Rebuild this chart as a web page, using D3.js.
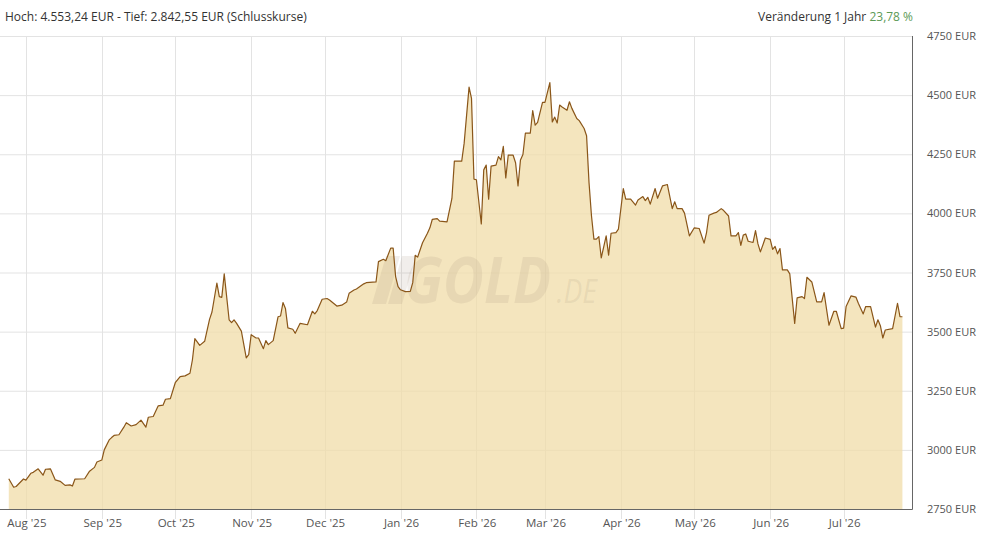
<!DOCTYPE html>
<html>
<head>
<meta charset="utf-8">
<style type="text/css">
body { margin: 0; background: #fff; }
text { font-family: "Open Sans", sans-serif; }
</style>
</head>
<body>
<script src="https://d3js.org/d3.v7.min.js"></script>
<script>
// daily closing prices (EUR)
var dates = [
  "2025-07-25","2025-07-27","2025-07-28","2025-07-31","2025-08-01","2025-08-03","2025-08-04","2025-08-06","2025-08-08","2025-08-09",
  "2025-08-11","2025-08-13","2025-08-15","2025-08-17","2025-08-19","2025-08-20","2025-08-21","2025-08-25","2025-08-27","2025-08-29",
  "2025-08-30","2025-09-01","2025-09-02","2025-09-04","2025-09-05","2025-09-06","2025-09-08","2025-09-10","2025-09-11","2025-09-13",
  "2025-09-15","2025-09-17","2025-09-19","2025-09-20","2025-09-22","2025-09-24","2025-09-26","2025-09-27","2025-09-29","2025-10-01",
  "2025-10-03","2025-10-05","2025-10-07","2025-10-08","2025-10-09","2025-10-11","2025-10-13","2025-10-15","2025-10-16","2025-10-18",
  "2025-10-19","2025-10-20","2025-10-21","2025-10-23","2025-10-24","2025-10-25","2025-10-26","2025-10-28","2025-10-30","2025-10-31",
  "2025-11-01","2025-11-03","2025-11-04","2025-11-06","2025-11-07","2025-11-08","2025-11-10","2025-11-12","2025-11-13","2025-11-14",
  "2025-11-15","2025-11-16","2025-11-18","2025-11-19","2025-11-21","2025-11-24","2025-11-26","2025-11-27","2025-11-28","2025-11-30",
  "2025-12-02","2025-12-03","2025-12-06","2025-12-08","2025-12-10","2025-12-11","2025-12-13","2025-12-14","2025-12-17","2025-12-18",
  "2025-12-22","2025-12-23","2025-12-25","2025-12-26","2025-12-28","2025-12-29","2025-12-30","2025-12-31","2026-01-01","2026-01-03",
  "2026-01-05","2026-01-06","2026-01-07","2026-01-08","2026-01-10","2026-01-12","2026-01-13","2026-01-14","2026-01-16","2026-01-17",
  "2026-01-20","2026-01-22","2026-01-23","2026-01-26","2026-01-27","2026-01-29","2026-01-30","2026-01-31","2026-02-01","2026-02-03",
  "2026-02-04","2026-02-05","2026-02-06","2026-02-07","2026-02-09","2026-02-10","2026-02-11","2026-02-12","2026-02-13","2026-02-14",
  "2026-02-16","2026-02-17","2026-02-18","2026-02-19","2026-02-20","2026-02-21","2026-02-23","2026-02-24","2026-02-25","2026-02-26",
  "2026-02-28","2026-03-01","2026-03-03","2026-03-04","2026-03-05","2026-03-06","2026-03-07","2026-03-08","2026-03-10","2026-03-11",
  "2026-03-12","2026-03-14","2026-03-15","2026-03-17","2026-03-18","2026-03-19","2026-03-20","2026-03-21","2026-03-22","2026-03-23",
  "2026-03-24","2026-03-26","2026-03-27","2026-03-28","2026-03-30","2026-03-31","2026-04-02","2026-04-03","2026-04-05","2026-04-07",
  "2026-04-08","2026-04-10","2026-04-11","2026-04-12","2026-04-13","2026-04-15","2026-04-16","2026-04-18","2026-04-20","2026-04-22",
  "2026-04-23","2026-04-24","2026-04-26","2026-04-27","2026-04-29","2026-05-01","2026-05-03","2026-05-05","2026-05-06","2026-05-07",
  "2026-05-09","2026-05-10","2026-05-12","2026-05-13","2026-05-15","2026-05-16","2026-05-18","2026-05-19","2026-05-20","2026-05-21",
  "2026-05-22","2026-05-23","2026-05-25","2026-05-26","2026-05-27","2026-05-28","2026-05-30","2026-06-01","2026-06-02","2026-06-03",
  "2026-06-04","2026-06-05","2026-06-06","2026-06-08","2026-06-09","2026-06-11","2026-06-12","2026-06-14","2026-06-15","2026-06-16",
  "2026-06-18","2026-06-20","2026-06-22","2026-06-23","2026-06-25","2026-06-27","2026-06-28","2026-06-30","2026-07-01","2026-07-02",
  "2026-07-04","2026-07-06","2026-07-07","2026-07-09","2026-07-10","2026-07-12","2026-07-14","2026-07-15","2026-07-16","2026-07-17",
  "2026-07-18","2026-07-21","2026-07-23","2026-07-24","2026-07-25"
];
var prices = [
  2878,2842,2845,2877,2872,2901,2905,2920,2893,2918,
  2920,2873,2867,2850,2852,2847,2876,2878,2910,2926,
  2949,2957,3000,3042,3052,3061,3064,3096,3115,3101,
  3107,3126,3096,3138,3141,3186,3189,3214,3217,3284,
  3310,3313,3324,3380,3470,3442,3459,3552,3583,3705,
  3648,3645,3744,3550,3538,3550,3536,3502,3389,3403,
  3487,3473,3473,3428,3462,3445,3462,3563,3566,3623,
  3598,3516,3510,3493,3535,3529,3586,3575,3589,3637,
  3640,3634,3608,3612,3625,3662,3676,3680,3702,3707,
  3710,3796,3806,3800,3853,3853,3733,3690,3677,3669,
  3670,3707,3823,3815,3876,3916,3939,3975,3978,3967,
  3964,4063,4221,4221,4297,4534,4486,4145,4142,3955,
  4184,4204,4060,4200,4204,4240,4226,4283,4150,4246,
  4246,4214,4116,4226,4249,4339,4339,4435,4373,4385,
  4469,4469,4553,4387,4407,4382,4458,4450,4436,4472,
  4444,4401,4392,4359,4328,4130,3990,3891,3891,3902,
  3812,3905,3823,3916,3919,3933,4105,4060,4060,4035,
  4057,4071,4054,4068,4039,4105,4064,4116,4122,4020,
  4049,4020,4020,4001,3905,3939,3936,3874,3919,3992,
  4001,4004,4020,4012,3989,3905,3905,3919,3865,3908,
  3913,3882,3877,3927,3871,3837,3896,3890,3848,3860,
  3829,3851,3761,3761,3744,3535,3643,3648,3640,3730,
  3710,3626,3626,3665,3527,3586,3586,3513,3515,3606,
  3651,3646,3620,3575,3606,3606,3519,3550,3525,3473,
  3507,3513,3620,3563,3563
];
var yTicks = [2750, 3000, 3250, 3500, 3750, 4000, 4250, 4500, 4750];
var monthNames = ["Jan","Feb","Mar","Apr","May","Jun","Jul","Aug","Sep","Oct","Nov","Dec"];
var headerLeft = "Hoch: 4.553,24 EUR - Tief: 2.842,55 EUR (Schlusskurse)";
var headerRight = "Veränderung 1 Jahr ";
var changeText = "23,78 %";

var W = 984, H = 541;
var plot = {left: 0, right: 912, top: 36, bottom: 509};

var parse = d3.timeParse("%Y-%m-%d");
var data = dates.map(function(d, i){ return {date: parse(d), value: prices[i]}; });

var svg = d3.select("body").append("svg")
    .attr("width", W).attr("height", H);

var x = d3.scaleTime()
    .domain([new Date(2025, 6, 21, 10), new Date(2026, 6, 28, 22)])
    .range([plot.left, plot.right]);
var y = d3.scaleLinear()
    .domain([2750, 4750])
    .range([plot.bottom, plot.top]);

var months = x.ticks(d3.timeMonth.every(1)).filter(function(d){ return x(d) > 5 && x(d) < plot.right - 5; });

// grid
svg.append("g").selectAll("line").data(yTicks).enter().append("line")
    .attr("x1", plot.left).attr("x2", plot.right)
    .attr("y1", function(d){ return y(d) + 0.5; }).attr("y2", function(d){ return y(d) + 0.5; })
    .attr("stroke", "#e3e3e3").attr("stroke-width", 1);
svg.append("g").selectAll("line").data(months).enter().append("line")
    .attr("x1", function(d){ return Math.round(x(d)) + 0.5; }).attr("x2", function(d){ return Math.round(x(d)) + 0.5; })
    .attr("y1", plot.top).attr("y2", plot.bottom + 10)
    .attr("stroke", "#e3e3e3").attr("stroke-width", 1);

// area + line
var area = d3.area().x(function(d){ return x(d.date); }).y0(plot.bottom).y1(function(d){ return y(d.value); });
var line = d3.line().x(function(d){ return x(d.date); }).y(function(d){ return y(d.value); });

svg.append("path").datum(data).attr("d", area)
    .attr("fill", "#f0dca8").attr("fill-opacity", 0.75);

// watermark (logo bars + one text)
var wm = svg.append("g").attr("fill", "#9a8a70").attr("fill-opacity", 0.14);
wm.append("path").attr("d", "M372,304 L386,256 L400,256 L386,304 Z");
wm.append("path").attr("d", "M388,304 L402,256 L416,256 L402,304 Z");
var wt = wm.append("text").attr("transform", "translate(404,303) scale(0.88,1)")
    .attr("font-style", "italic");
wt.append("tspan").attr("font-size", 64).attr("font-weight", "bold").text("GOLD");
wt.append("tspan").attr("font-size", 32).attr("dx", 6).text(".DE");

svg.append("path").datum(data).attr("d", line)
    .attr("fill", "none").attr("stroke", "#8a5619").attr("stroke-width", 1.2)
    .attr("stroke-linejoin", "round");

// axis lines
svg.append("path")
    .attr("d", "M" + plot.left + "," + (plot.bottom + 0.5) + "H" + (plot.right + 0.5) + "V" + plot.top)
    .attr("fill", "none").attr("stroke", "#666").attr("stroke-width", 1);

// y labels
svg.append("g").selectAll("text").data(yTicks).enter().append("text")
    .attr("x", 927).attr("y", function(d){ return y(d) + 4; })
    .attr("font-size", 11).attr("fill", "#555")
    .text(function(d){ return d + " EUR"; });

// x labels
svg.append("g").selectAll("text").data(months).enter().append("text")
    .attr("x", function(d){ return x(d) + 1; }).attr("y", 527)
    .attr("text-anchor", "middle").attr("font-size", 11.5).attr("fill", "#555")
    .text(function(d){ return monthNames[d.getMonth()] + " '" + String(d.getFullYear()).slice(2); });

// header
svg.append("text").attr("x", 5).attr("y", 21).attr("font-size", 12).attr("fill", "#333").text(headerLeft);
var hr = svg.append("text").attr("x", 913).attr("y", 21).attr("text-anchor", "end").attr("font-size", 12).attr("fill", "#333");
hr.append("tspan").text(headerRight);
hr.append("tspan").attr("fill", "#5c9a55").text(changeText);
</script>
</body>
</html>
